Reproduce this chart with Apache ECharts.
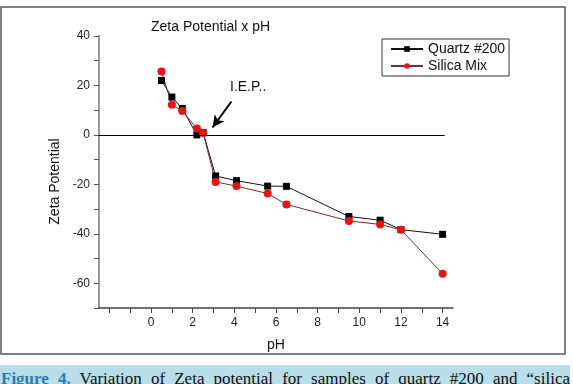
<!DOCTYPE html>
<html>
<head>
<meta charset="utf-8">
<script src="https://cdn.jsdelivr.net/npm/echarts@6/dist/echarts.min.js"></script>
<style>
  html, body { margin: 0; padding: 0; background: #fff; overflow: hidden; }
  .wrap { position: relative; width: 573px; height: 384px; }
  #mainChart { width: 573px; height: 384px; }
  .caption {
    position: absolute;
    left: 0;
    top: 365px;
    width: 569px;
    height: 19px;
    padding-left: 1px;
    background: #b9dee9;
    font-family: "Liberation Serif", serif;
    font-size: 17px;
    line-height: 27px;
    color: #111;
    white-space: nowrap;
    text-align: justify;
    text-align-last: justify;
    overflow: hidden;
  }
  .caption b { color: #2a7db0; }
</style>
</head>
<body>
<div class="wrap">
  <div id="mainChart"></div>
  <div class="caption"><b>Figure 4.</b> Variation of Zeta potential for samples of quartz #200 and “silica</div>
</div>
<script>
// pH values, same for both samples
var phValues = [0.5, 1.0, 1.5, 2.2, 2.5, 3.1, 4.1, 5.6, 6.5, 9.5, 11.0, 12.0, 14.0];
var quartz200 = [22.0, 15.3, 10.7, 0.0, 1.0, -16.6, -18.5, -20.7, -20.8, -33.0, -34.5, -38.3, -40.2];
var silicaMix = [25.6, 12.2, 9.7, 2.6, 0.8, -19.0, -20.7, -23.7, -28.1, -34.8, -36.2, -38.4, -56.1];

// ticks / labels
var xTicks = [-2, -1, 0, 1, 2, 3, 4, 5, 6, 7, 8, 9, 10, 11, 12, 13, 14];
var xLabels = [0, 2, 4, 6, 8, 10, 12, 14];
var yTicks = [-70, -60, -50, -40, -30, -20, -10, 0, 10, 20, 30, 40];
var yLabels = [-60, -40, -20, 0, 20, 40];

var chart = echarts.init(document.getElementById("mainChart"));

function pairs(xs, ys) {
  var out = [];
  for (var i = 0; i < xs.length; i++) {
    out.push([xs[i], ys[i]]);
  }
  return out;
}

var option = {
  animation: false,
  textStyle: { fontFamily: "Liberation Sans, Arial, sans-serif" },
  title: {
    text: "Zeta Potential x pH",
    left: 146,
    top: 15,
    textStyle: { fontSize: 14, fontWeight: "normal", color: "#111" },
  },
  legend: {
    left: 382,
    top: 39,
    orient: "vertical",
    borderColor: "#333",
    borderWidth: 1,
    padding: [3, 4, 3, 8],
    itemGap: 3,
    itemWidth: 32,
    itemHeight: 7,
    textStyle: { fontSize: 14, color: "#111" },
    data: ["Quartz #200", "Silica Mix"],
  },
  grid: {
    left: 99,
    right: 120,
    top: 36,
    bottom: 76,
  },
  xAxis: {
    type: "value",
    min: -2.5,
    max: 14.5,
    name: "pH",
    nameLocation: "middle",
    nameGap: 30,
    nameTextStyle: { fontSize: 14, color: "#111" },
    axisLine: { onZero: false, lineStyle: { color: "#444", width: 1.5 } },
    axisTick: {
      customValues: xTicks,
      length: 5,
      lineStyle: { color: "#444" },
    },
    axisLabel: {
      customValues: xLabels,
      margin: 9,
      fontSize: 12,
      color: "#222",
    },
    splitLine: { show: false },
  },
  yAxis: {
    type: "value",
    min: -70,
    max: 40,
    name: "Zeta Potential",
    nameLocation: "middle",
    nameGap: 34,
    nameTextStyle: { fontSize: 14, color: "#111", padding: [0, 19, 0, 0] },
    axisLine: { show: true, onZero: false, lineStyle: { color: "#999", width: 2 } },
    axisTick: {
      show: true,
      customValues: yTicks,
      length: 5,
      lineStyle: { color: "#555" },
    },
    axisLabel: {
      customValues: yLabels,
      margin: 9,
      fontSize: 12,
      color: "#222",
    },
    splitLine: { show: false },
  },
  series: [
    {
      name: "Quartz #200",
      type: "line",
      data: pairs(phValues, quartz200),
      symbol: "rect",
      symbolSize: 7,
      itemStyle: { color: "#000" },
      lineStyle: { color: "#111", width: 1 },
      markLine: {
        silent: true,
        symbol: "none",
        label: { show: false },
        lineStyle: { color: "#000", width: 1, type: "solid" },
        data: [[{ coord: [-2.5, 0] }, { coord: [14.1, 0] }]],
      },
    },
    {
      name: "Silica Mix",
      type: "line",
      data: pairs(phValues, silicaMix),
      symbol: "circle",
      symbolSize: 8,
      itemStyle: { color: "#ee1111" },
      lineStyle: { color: "#7d2b2b", width: 1 },
      markLine: {
        silent: true,
        symbol: ["none", "arrow"],
        symbolSize: [9, 12],
        label: { show: false },
        lineStyle: { color: "#000", width: 2, type: "solid" },
        data: [[{ coord: [3.86, 13.5] }, { coord: [2.95, 3.0] }]],
      },
    },
  ],
  graphic: [
    {
      type: "rect",
      shape: { x: 1, y: 7, width: 564, height: 347 },
      style: { fill: "none", stroke: "#555", lineWidth: 1.5 },
      silent: true,
    },
    {
      type: "text",
      left: 230,
      top: 80,
      style: { text: "I.E.P..", fontSize: 14, fill: "#111", fontFamily: "Liberation Sans, Arial" },
    },
  ],
};

chart.setOption(option);
</script>
</body>
</html>
